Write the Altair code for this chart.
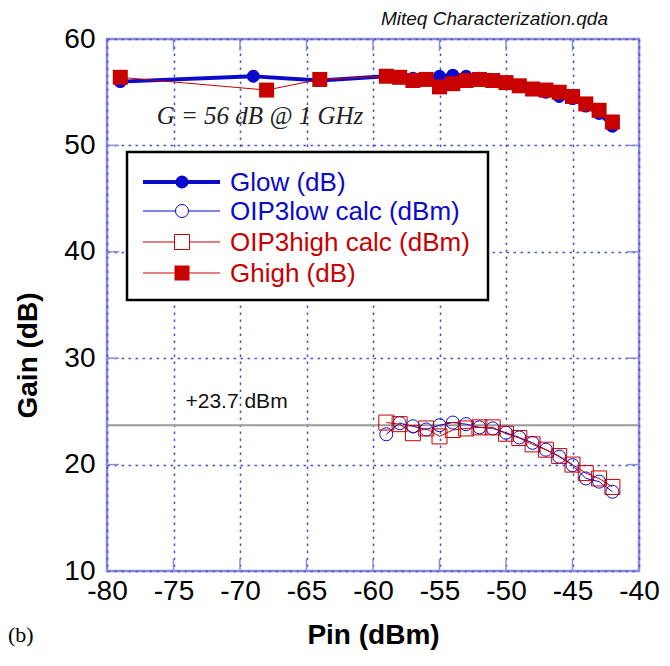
import altair as alt
import pandas as pd

# ---------------- data ----------------
pin_glow = [-79, -69, -64, -59, -58, -57, -56, -55, -54, -53, -52, -51, -50, -49, -48, -47, -46, -45, -44, -43, -42]
glow = [56.0, 56.5, 56.1, 56.5, 56.4, 56.3, 56.2, 56.5, 56.6, 56.5, 56.3, 56.1, 55.9, 55.6, 55.3, 55.0, 54.6, 54.4, 53.7, 53.0, 51.8]

pin_ghigh = [-79, -68, -64, -59, -58, -57, -56, -55, -54, -53, -52, -51, -50, -49, -48, -47, -46, -45, -44, -43, -42]
ghigh = [56.4, 55.2, 56.2, 56.5, 56.4, 56.1, 56.2, 55.5, 55.8, 56.1, 56.2, 56.1, 55.9, 55.6, 55.3, 55.2, 55.0, 54.6, 53.9, 53.3, 52.2]

pin_oip3 = [-59, -58, -57, -56, -55, -54, -53, -52, -51, -50, -49, -48, -47, -46, -45, -44, -43, -42]
oip3_low = [22.85, 23.9, 23.6, 23.3, 23.7, 23.95, 23.8, 23.5, 23.4, 23.0, 22.55, 22.05, 21.4, 20.75, 19.95, 18.7, 18.4, 17.45]
oip3_high = [23.95, 23.8, 22.95, 23.4, 22.65, 23.25, 23.4, 23.5, 23.5, 22.9, 22.5, 21.9, 21.4, 20.8, 20.0, 19.2, 18.7, 17.9]

oip3_ref = [23.7]
x_ticks = [-80, -75, -70, -65, -60, -55, -50, -45, -40]
y_ticks = [10, 20, 30, 40, 50, 60]

series_names = ["Glow (dB)", "OIP3low calc (dBm)", "OIP3high calc (dBm)", "Ghigh (dB)"]

# ---------------- styling ----------------
W, H = 532, 532
BLUE = "#0a0acc"
RED = "#c80000"
FRAME = "#8c8cdc"
GRID = "#4e4ecc"
SANS = "Liberation Sans"
SERIF = "Liberation Serif"

xscale = alt.Scale(domain=[-80, -40], nice=False, zero=False)
yscale = alt.Scale(domain=[10, 60], nice=False, zero=False)

x_axis = alt.Axis(values=x_ticks, grid=True, gridColor=GRID, gridDash=[2.5, 4.5], gridWidth=1.5,
                  ticks=False, domain=False, labelFont=SANS, labelFontSize=28, labelColor="black",
                  labelPadding=6, labelExpr="'' + datum.value", labelFlush=False,
                  title="Pin (dBm)", titleFont=SANS, titleFontSize=28, titleFontWeight="bold",
                  titleColor="black", titleY=64, titleBaseline="middle")
y_axis = alt.Axis(values=y_ticks, grid=True, gridColor=GRID, gridDash=[2.5, 4.5], gridWidth=1.5,
                  ticks=False, domain=False, labelFont=SANS, labelFontSize=28, labelColor="black",
                  labelPadding=12, labelExpr="'' + datum.value", labelFlush=False,
                  title="Gain (dB)", titleFont=SANS, titleFontSize=28, titleFontWeight="bold",
                  titleColor="black", titleX=-79, titleY=316, titleAngle=270,
                  titleAlign="center", titleBaseline="middle")

df_glow = pd.DataFrame({"pin": pin_glow, "val": glow})
df_ghigh = pd.DataFrame({"pin": pin_ghigh, "val": ghigh})
df_olow = pd.DataFrame({"pin": pin_oip3, "val": oip3_low})
df_ohigh = pd.DataFrame({"pin": pin_oip3, "val": oip3_high})

def enc(ch, axis=False):
    if axis:
        return ch.encode(x=alt.X("pin:Q", scale=xscale, axis=x_axis),
                         y=alt.Y("val:Q", scale=yscale, axis=y_axis))
    return ch.encode(x=alt.X("pin:Q", scale=xscale), y=alt.Y("val:Q", scale=yscale))

# axes/grid carrier (invisible)
base = enc(alt.Chart(df_glow).mark_point(opacity=0), axis=True)

# reference line
ref = alt.Chart(pd.DataFrame({"v": oip3_ref})).mark_rule(color="#9a9a9a", strokeWidth=2).encode(
    y=alt.Y("v:Q", scale=yscale))

# inward ticks
xt = pd.DataFrame({"t": x_ticks[1:-1]})
yt = pd.DataFrame({"t": y_ticks[1:-1]})
tick_layers = [
    alt.Chart(xt).mark_rule(color=FRAME, strokeWidth=1.5).encode(
        x=alt.X("t:Q", scale=xscale), y=alt.value(0), y2=alt.value(12)),
    alt.Chart(xt).mark_rule(color=FRAME, strokeWidth=1.5).encode(
        x=alt.X("t:Q", scale=xscale), y=alt.value(H - 12), y2=alt.value(H)),
    alt.Chart(yt).mark_rule(color=FRAME, strokeWidth=1.5).encode(
        y=alt.Y("t:Q", scale=yscale), x=alt.value(0), x2=alt.value(12)),
    alt.Chart(yt).mark_rule(color=FRAME, strokeWidth=1.5).encode(
        y=alt.Y("t:Q", scale=yscale), x=alt.value(W - 12), x2=alt.value(W)),
]

CIRC = 170
SQ = 225

olow_line = enc(alt.Chart(df_olow).mark_line(color=BLUE, strokeWidth=1))
olow_pts = enc(alt.Chart(df_olow).mark_point(shape="circle", filled=False, size=CIRC, color=BLUE, strokeWidth=1, opacity=1))
ohigh_line = enc(alt.Chart(df_ohigh).mark_line(color=RED, strokeWidth=1))
ohigh_pts = enc(alt.Chart(df_ohigh).mark_point(shape="square", filled=False, size=SQ, color=RED, strokeWidth=1, opacity=1))
glow_line = enc(alt.Chart(df_glow).mark_line(color=BLUE, strokeWidth=3.8))
glow_pts = enc(alt.Chart(df_glow).mark_point(shape="circle", filled=True, size=CIRC, color=BLUE, opacity=1))
ghigh_line = enc(alt.Chart(df_ghigh).mark_line(color=RED, strokeWidth=1))
ghigh_pts = enc(alt.Chart(df_ghigh).mark_point(shape="square", filled=True, size=SQ, color=RED, opacity=1))

# legend (drawn manually)
one = pd.DataFrame({"k": [0]})
legend_layers = [
    alt.Chart(one).mark_rect(fill="white", stroke="black", strokeWidth=2.5).encode(
        x=alt.value(20), x2=alt.value(381), y=alt.value(113), y2=alt.value(261))
]
rows_y = [143, 172, 203, 234]
styles = [
    dict(color=BLUE, lw=3.8, shape="circle", filled=True, size=CIRC),
    dict(color=BLUE, lw=1, shape="circle", filled=False, size=CIRC),
    dict(color=RED, lw=1, shape="square", filled=False, size=SQ),
    dict(color=RED, lw=1, shape="square", filled=True, size=SQ),
]
for name, ry, st in zip(series_names, rows_y, styles):
    lab = pd.DataFrame({"label": [name]})
    legend_layers.append(alt.Chart(lab).mark_rule(color=st["color"], strokeWidth=st["lw"]).encode(
        x=alt.value(36), x2=alt.value(113), y=alt.value(ry)))
    pt_kwargs = dict(shape=st["shape"], filled=st["filled"], size=st["size"], opacity=1)
    if st["filled"]:
        pt_kwargs["color"] = st["color"]
    else:
        pt_kwargs.update(color=st["color"], fill="white", strokeWidth=1)
    legend_layers.append(alt.Chart(lab).mark_point(**pt_kwargs).encode(
        x=alt.value(75), y=alt.value(ry)))
    legend_layers.append(alt.Chart(lab).mark_text(align="left", baseline="middle", font=SANS,
                                                  fontSize=26, color=st["color"]).encode(
        x=alt.value(123), y=alt.value(ry + 1), text="label:N"))

# annotations
ann = pd.DataFrame({"pin": [-68.5], "val": [52.8], "txt": ["G = 56 dB @ 1 GHz"]})
ann_text = alt.Chart(ann).mark_text(font=SERIF, fontStyle="italic", fontSize=25, color="#222222",
                                    align="center", baseline="middle").encode(
    x=alt.X("pin:Q", scale=xscale), y=alt.Y("val:Q", scale=yscale), text="txt:N")
ref_lab = pd.DataFrame({"pin": [-74.1], "val": [25.9], "txt": ["+23.7 dBm"]})
ref_text = alt.Chart(ref_lab).mark_text(font=SANS, fontSize=21, color="#111111",
                                        align="left", baseline="middle").encode(
    x=alt.X("pin:Q", scale=xscale), y=alt.Y("val:Q", scale=yscale), text="txt:N")
miteq = alt.Chart(pd.DataFrame({"txt": ["Miteq Characterization.qda"]})).mark_text(
    font=SANS, fontStyle="italic", fontSize=19, color="#111111", align="right", baseline="middle").encode(
    x=alt.value(501), y=alt.value(-20), text="txt:N")
blab = alt.Chart(pd.DataFrame({"txt": ["(b)"]})).mark_text(
    font=SERIF, fontSize=22, color="black", align="left", baseline="middle").encode(
    x=alt.value(-99), y=alt.value(596), text="txt:N")

chart = alt.layer(
    base, ref, *tick_layers,
    olow_line, ohigh_line, olow_pts, ohigh_pts,
    glow_line, glow_pts, ghigh_line, ghigh_pts,
    *legend_layers, ann_text, ref_text, miteq, blab
).properties(
    width=W, height=H,
    autosize=alt.AutoSizeParams(type="none"),
    padding={"left": 107, "top": 39, "right": 31, "bottom": 95},
    background="white",
).configure_view(stroke=FRAME, strokeWidth=2.5)

chart.save("out.html", embed_options={"renderer": "svg", "actions": False})
